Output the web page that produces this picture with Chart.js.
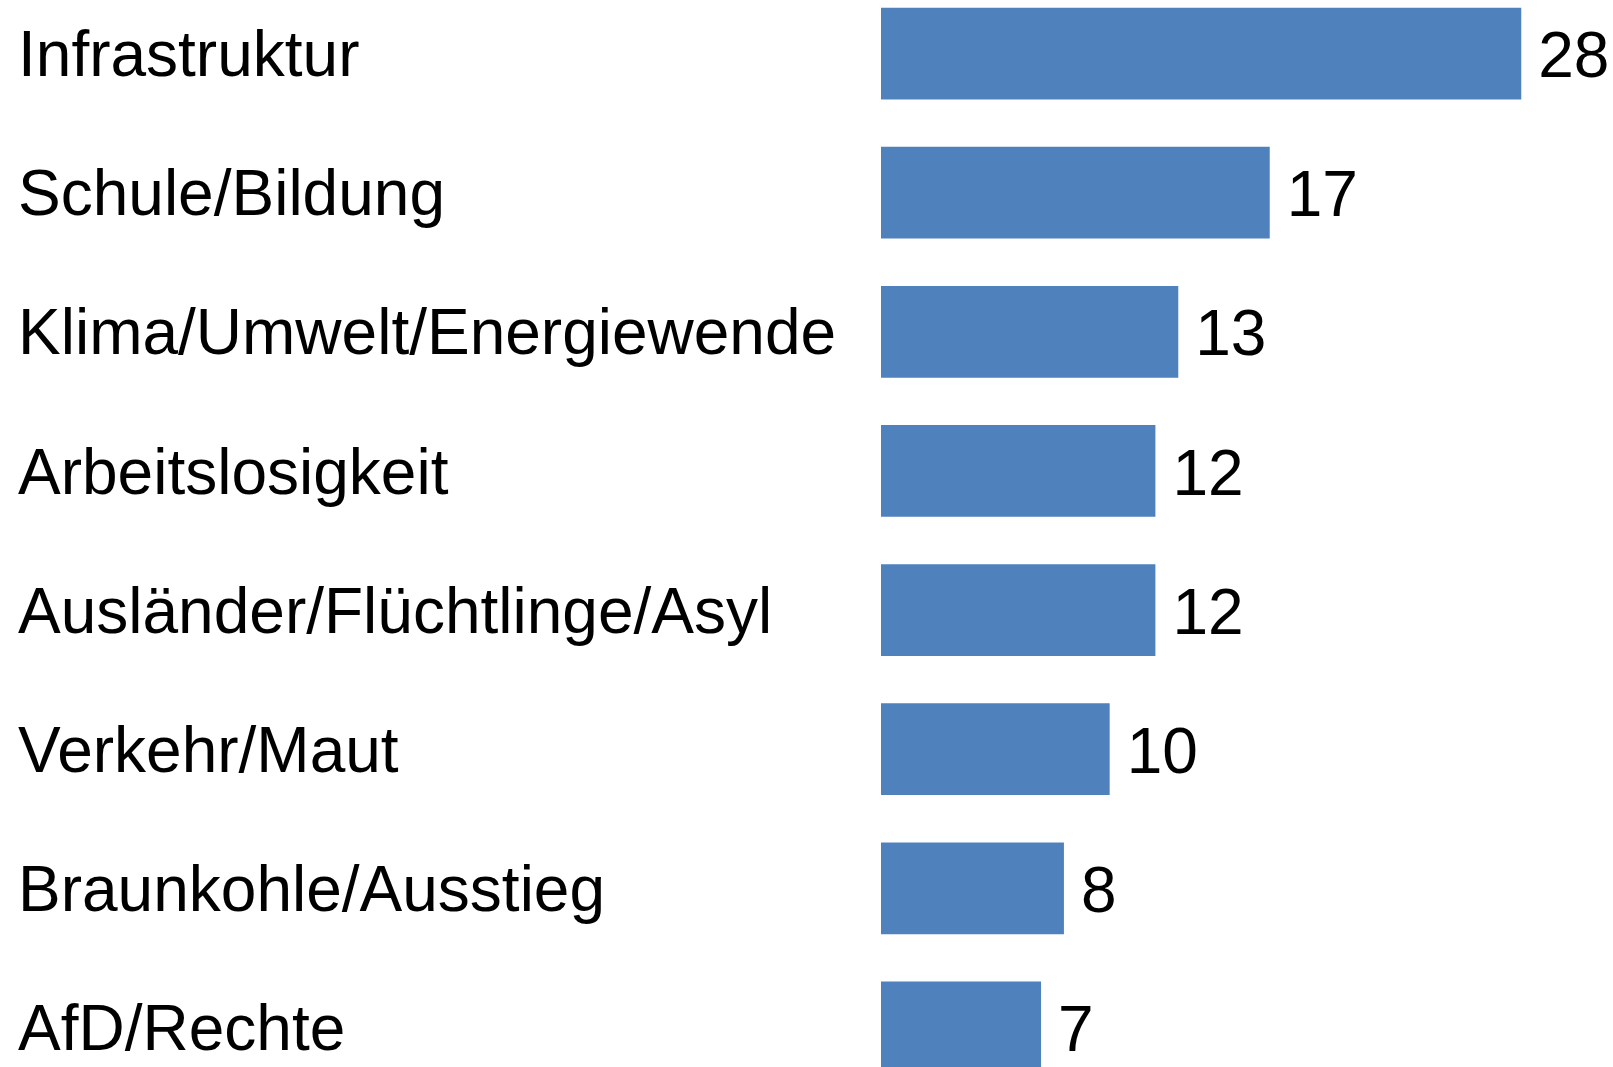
<!DOCTYPE html>
<html>
<head>
<meta charset="utf-8">
<script src="https://cdn.jsdelivr.net/npm/chart.js@4/dist/chart.umd.min.js"></script>
<style>
    html, body { margin: 0; padding: 0; background: #fff; overflow: hidden; width: 1613px; height: 1067px; }
    #wrap { position: absolute; left: 0; top: -16px; width: 1613px; height: 1113px; }
</style>
</head>
<body>
<div id="wrap"><canvas id="chart" width="1613" height="1113"></canvas></div>
<script>
// Themen (Anzahl Nennungen)
const categories = [
    "Infrastruktur",
    "Schule/Bildung",
    "Klima/Umwelt/Energiewende",
    "Arbeitslosigkeit",
    "Ausländer/Flüchtlinge/Asyl",
    "Verkehr/Maut",
    "Braunkohle/Ausstieg",
    "AfD/Rechte"
];
const values = [28, 17, 13, 12, 12, 10, 8, 7];

const FONT = "'Liberation Sans', Arial, Helvetica, sans-serif";
const FONT_SIZE = 64;

// draw the numbers right of each bar
const valueLabels = {
    id: "valueLabels",
    afterDatasetsDraw(chart) {
        const ctx = chart.ctx;
        const meta = chart.getDatasetMeta(0);
        ctx.save();
        ctx.font = `${FONT_SIZE}px ${FONT}`;
        ctx.fillStyle = "#000";
        ctx.textAlign = "left";
        ctx.textBaseline = "middle";
        meta.data.forEach((bar, i) => {
            ctx.fillText(String(values[i]), bar.x + 17, bar.y + 6);
        });
        ctx.restore();
    }
};

new Chart(document.getElementById("chart").getContext("2d"), {
    type: "bar",
    data: {
        labels: categories,
        datasets: [{
            data: values,
            backgroundColor: "#4F81BD",
            borderWidth: 0,
            categoryPercentage: 1,
            barPercentage: 0.659
        }]
    },
    options: {
        indexAxis: "y",
        responsive: false,
        animation: false,
        layout: { padding: { left: 18, right: 46, top: 0, bottom: 0 } },
        plugins: {
            legend: { display: false },
            tooltip: { enabled: false }
        },
        scales: {
            x: {
                display: false,
                min: 0,
                max: 30
            },
            y: {
                grid: { display: false, drawTicks: false },
                border: { display: false },
                afterFit(scale) {
                    scale.width = 863;
                    // no extra room for the label overhang at top/bottom
                    scale.paddingTop = 0;
                    scale.paddingBottom = 0;
                },
                ticks: {
                    crossAlign: "far",
                    color: "#000",
                    padding: 0,
                    labelOffset: 5,
                    font: { family: FONT, size: FONT_SIZE }
                }
            }
        }
    },
    plugins: [valueLabels]
});
</script>
</body>
</html>
